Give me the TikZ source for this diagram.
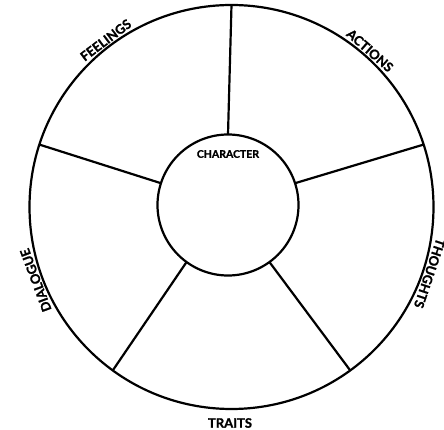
\documentclass[tikz,border=0pt]{standalone}
\usepackage{fontspec}
\setmainfont{Lato}[BoldFeatures={FakeBold=1.2}]
\usetikzlibrary{calc}
\begin{document}
\begin{tikzpicture}[x=1pt,y=1pt,
  ring/.style={line width=2.2pt, draw=black},
  spoke/.style={line width=2.2pt, draw=black},
  lab/.style={font=\fontsize{13}{13}\selectfont\bfseries, inner sep=0pt, anchor=south},
  hub/.style={font=\fontsize{10.5}{10.5}\selectfont\bfseries, inner sep=0pt}]
\useasboundingbox (-231.5,-223) rectangle (212.5,207);
\coordinate (O) at (0,0);
\coordinate (I) at (-3.5,2);
\draw[ring] (O) circle (202);
\draw[ring] (I) circle (70.5);
\foreach \a/\n in {90/t,18/r,162/l,234/bl,306/br}{
  \coordinate (in\n) at ($(I)+(\a:70.5)$);
  \coordinate (out\n) at ($(O)+(\a:202)$);
  \draw[spoke] (in\n) -- (out\n);
}
\node[lab, rotate=37] (feel) at (127:204) {FEELINGS};
\node[lab, rotate=-41.5] (act) at (48.5:204) {ACTIONS};
\node[lab, rotate=-108.5] (tho) at (-18.5:204) {THOUGHTS};
\node[lab, rotate=110.5] (dia) at (200.5:204) {DIALOGUE};
\node[lab, anchor=north] (tra) at (-1.5,-211) {TRAITS};
\node[hub] (char) at (-3.5,53) {CHARACTER};
\end{tikzpicture}
\end{document}
